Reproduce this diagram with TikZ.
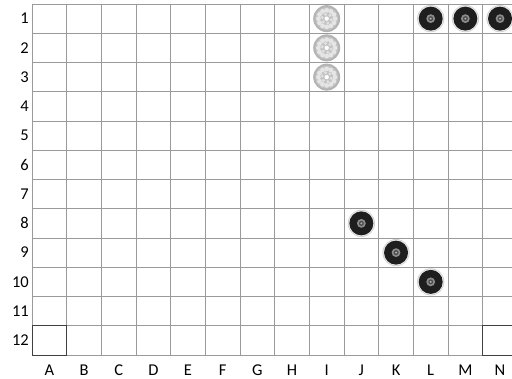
\documentclass[tikz,border=0pt]{standalone}
\usepackage{fontspec}
\setmainfont{Carlito}
\definecolor{gridGray}{HTML}{9A9A9A}
\definecolor{stoneDark}{HTML}{1E1E1E}
\definecolor{stoneRing}{HTML}{8C8C8C}
\definecolor{haloGray}{HTML}{D0D0D0}
\definecolor{pattGray}{HTML}{B4B4B4}

\begin{document}
\begin{tikzpicture}[x=1pt, y=-1pt, font=\fontsize{16.5}{18}\selectfont,
  darkstone/.pic={
    \fill[haloGray] (0,0) circle (13.6);
    \fill[white!70!haloGray] (0,0) circle (12.8);
    \fill[stoneDark] (0,0) circle (12);
    \fill[stoneRing] (0,0) circle (4.4);
    \fill[stoneDark!80] (0,0) circle (2.5);
    \fill[gray!60] (0,0) circle (1.1);
  },
  lightstone/.pic={
    \fill[pattGray] (0,0) circle (13.5);
    \fill[pattGray!80] (0,0) circle (11.5);
    \foreach \a in {0,30,...,330}{
      \fill[white!65!pattGray] (\a:8.3) circle (2.4);
    }
    \foreach \a in {15,75,...,315}{
      \fill[white!60!pattGray] (\a:4.6) circle (1.6);
    }
    \fill[white] (0,0) circle (2.2);
  }]
  \useasboundingbox (0,0) rectangle (512,379);
  \begin{scope}
    \clip (0,0) rectangle (512,379);

    % Board: 14 columns (A-N), 12 rows
    \foreach \i in {0,...,14}{
      \draw[gridGray, line width=0.9pt] ({32+\i*34.67},4) -- ({32+\i*34.67},355);
    }
    \foreach \j in {0,...,12}{
      \draw[gridGray, line width=0.9pt] (32,{4+\j*29.25}) -- (517,{4+\j*29.25});
    }
    % Darker corner cells A12 and N12
    \draw[black!75, line width=0.9pt] (32,325.75) rectangle (66.67,355);
    \draw[black!75, line width=0.9pt] (482.67,325.75) rectangle (517.34,355);

    % Patterned stones in column I
    \foreach \r in {1,2,3}{
      \pic at ({32+8.5*34.67},{4+(\r-0.5)*29.25}) {lightstone};
    }
    % Dark stones (column/row)
    \foreach \c/\r in {11/1,12/1,13/1,9/8,10/9,11/10}{
      \pic at ({32+(\c+0.5)*34.67},{4+(\r-0.5)*29.25}) {darkstone};
    }
  \end{scope}

  % Row labels
  \foreach \r in {1,...,12}{
    \node[anchor=east, inner sep=1pt] (row\r) at (30,{4+(\r-0.5)*29.25}) {\r};
  }
  % Column labels
  \foreach \c/\lab in {0/A,1/B,2/C,3/D,4/E,5/F,6/G,7/H,8/I,9/J,10/K,11/L,12/M,13/N}{
    \node[inner sep=1pt] (col\lab) at ({32+(\c+0.5)*34.67},370) {\lab};
  }
\end{tikzpicture}
\end{document}
